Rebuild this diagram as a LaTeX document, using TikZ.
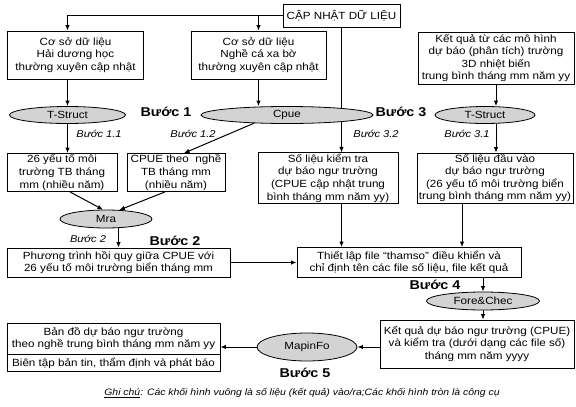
\documentclass[tikz,border=0pt]{standalone}
\usepackage{fontspec}
\setmainfont{Liberation Sans}[FakeStretch=1.12]
\usetikzlibrary{shapes.geometric,arrows.meta,backgrounds,calc}
\definecolor{toolgray}{RGB}{211,211,211}
\newcommand{\bodyfs}{\fontsize{10.4}{12.6}\selectfont}
\begin{document}
\begin{tikzpicture}[x=1pt,y=-1pt,
  box/.style={draw, line width=0.8pt, align=center, inner sep=1pt, font=\bodyfs},
  tool/.style={ellipse, draw, fill=toolgray, line width=0.8pt, inner sep=0pt, font=\bodyfs},
  arr/.style={-{Latex[length=5.5pt,width=4.5pt]}, line width=1pt},
  stepb/.style={font=\bfseries\fontsize{12.8}{14}\selectfont},
  stepi/.style={font=\itshape\fontsize{9.9}{11}\selectfont},
  notefs/.style={font=\itshape\fontsize{9.3}{11}\selectfont}]
\useasboundingbox (0,0) rectangle (576,407);

% boxes
\node[box, minimum width=117pt, minimum height=23pt] (top) at (341.5,15.5) {CẬP NHẬT DỮ LIỆU};
\node[box, minimum width=136pt, minimum height=48pt] (b1) at (75.5,55) {Cơ sở dữ liệu\\Hải dương học\\thường xuyên cập nhật};
\node[box, minimum width=135pt, minimum height=48pt] (b2) at (258.5,55) {Cơ sở dữ liệu\\Nghề cá xa bờ\\thường xuyên cập nhật};
\node[box, minimum width=156pt, minimum height=52pt] (b3) at (496,58) {Kết quả từ các mô hình\\dự báo (phân tích) trường\\3D nhiệt biến\\trung bình tháng mm năm yy};

% tools row 1
\node[tool, minimum width=116pt, minimum height=17pt] (ts1) at (67.5,115) {T-Struct};
\node[tool, minimum width=172pt, minimum height=17pt] (cpue) at (287,115) {Cpue};
\node[tool, minimum width=100pt, minimum height=17pt] (ts2) at (485,115) {T-Struct};

\node[stepb] (s1) at (166,112) {Bước 1};
\node[stepb] (s3) at (401,112) {Bước 3};
\node[stepi] (s11) at (99,134) {Bước 1.1};
\node[stepi] (s12) at (193,134) {Bước 1.2};
\node[stepi] (s32) at (376,134) {Bước 3.2};
\node[stepi] (s31) at (467,134) {Bước 3.1};

% second row boxes
\node[box, minimum width=110pt, minimum height=38pt] (ts26) at (62,172.5) {26 yếu tố môi\\trường TB tháng\\mm (nhiều năm)};
\node[box, minimum width=98pt, minimum height=38pt] (cpn) at (176,172.5) {CPUE theo\ \ nghề\\TB tháng mm\\(nhiều năm)};
\node[box, minimum width=140pt, minimum height=50pt] (kt) at (328,178) {Số liệu kiểm tra\\dự báo ngư trường\\(CPUE cập nhật trung\\bình tháng mm năm yy)};
\node[box, minimum width=156pt, minimum height=50pt] (dv) at (495,178) {Số liệu đầu vào\\dự báo ngư trường\\(26 yếu tố môi trường biển\\trung bình tháng mm năm yy)};

\node[tool, minimum width=92pt, minimum height=18pt] (mra) at (106,219) {Mra};
\node[stepi] (s2i) at (88,239) {Bước 2};
\node[stepb] (s2) at (175,241) {Bước 2};

\node[box, minimum width=223pt, minimum height=29pt] (ptr) at (118.5,262.5) {Phương trình hồi quy giữa CPUE với\\26 yếu tố môi trường biển tháng mm};
\node[box, minimum width=224pt, minimum height=30pt] (tl) at (409,262.5) {Thiết lập file “thamso” điều khiển và\\chỉ định tên các file số liệu, file kết quả};

\node[stepb] (s4) at (435,285) {Bước 4};
\node[tool, minimum width=113pt, minimum height=18pt] (fc) at (483,301) {Fore\&Chec};

\node[box, minimum width=194pt, minimum height=48pt] (kq) at (477,344) {Kết quả dự báo ngư trường (CPUE)\\và kiểm tra (dưới dạng các file số)\\tháng mm năm yyyy};
\node[tool, minimum width=100pt, minimum height=28pt] (mi) at (307,347) {MapinFo};
\node[stepb] (s5) at (305,373) {Bước 5};

\node[box, minimum width=213pt, minimum height=31pt] (bd) at (113.5,338.5) {Bản đồ dự báo ngư trường\\theo nghề trung bình tháng mm năm yy};
\node[box, minimum width=213pt, minimum height=17pt, anchor=north] (bt) at (bd.south) {Biên tập bản tin, thẩm định và phát báo};

\node[notefs] (note) at (302,393) {\underline{Ghi chú}: Các khối hình vuông là số liệu (kết quả) vào/ra;Các khối hình tròn là công cụ};

% connectors
\begin{scope}[on background layer]
\draw[arr] (top.west) -| (ts1 |- b1.north);
\draw[arr] (b2.north |- top.west) -- (b2.north);
\draw[arr] (top.south) -- (top.south |- kt.north);
\draw[arr] (ts1 |- b1.south) -- (ts1.north);
\draw[arr] (b2.south) -- (b2.south |- cpue.north);
\draw[arr] (b3.south) -- (b3.south |- ts2.north);
\draw[arr] (ts1.south) -- (ts1.south |- ts26.north);
\draw[arr] (cpue.194) -- ([xshift=8pt]cpn.north);
\draw[arr] (b3.south |- ts2.south) -- (b3.south |- dv.north);
\draw[arr] ([xshift=8pt]ts26.south) -- (mra.108);
\draw[arr] ([xshift=-11pt]cpn.south) -- (mra.34);
\draw[arr] (ptr.north |- mra.south) -- (ptr.north);
\draw[arr] (ptr.east) -- (tl.west);
\draw[arr] (top.south |- kt.south) -- (top.south |- tl.north);
\draw[arr] ([xshift=-33pt]dv.south) -- ([xshift=-33pt]dv.south |- tl.north);
\draw[arr] (fc.north |- tl.south) -- (fc.north);
\draw[arr] (fc.south) -- (fc.south |- kq.north);
\draw[arr] (kq.west |- mi.east) -- (mi.east);
\draw[arr] (mi.west) -- (bd.east |- mi.west);
\end{scope}
\end{tikzpicture}
\end{document}
